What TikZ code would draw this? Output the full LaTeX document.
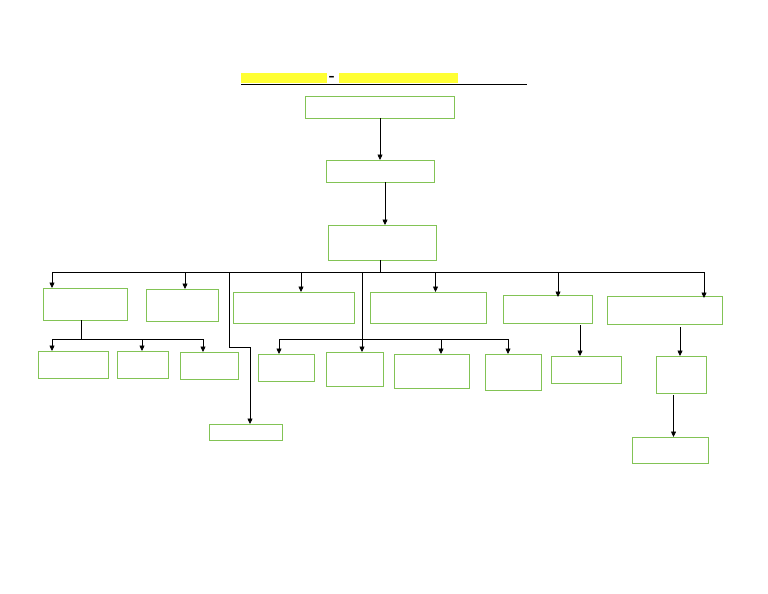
\documentclass[tikz,border=0pt]{standalone}
\usepackage{fontspec}
\newfontfamily\dashfont{DejaVu Sans}
\usetikzlibrary{arrows.meta}
\definecolor{gline}{RGB}{130,195,85}
\definecolor{hyel}{RGB}{255,255,51}
\newcommand\bx[5]{\node[gbox, minimum width={(#4-#2)*1pt}, minimum height={(#5-#3)*1pt}, anchor=north west] (#1) at (#2,#3) {};}
\begin{document}
\begin{tikzpicture}[x=1pt,y=-1pt,
  gbox/.style={draw=gline, line width=0.8pt, inner sep=0pt, outer sep=0pt},
  conn/.style={draw=black, line width=0.7pt},
  arr/.style={conn, -{Triangle[length=5.5pt,width=5pt]}}]
\useasboundingbox (0,0) rectangle (768,594);
\fill[white] (0,0) rectangle (768,594);
% title
\fill[hyel] (241,73) rectangle (327,83);
\fill[hyel] (339,73) rectangle (458,83);
\node[inner sep=0pt, font=\dashfont\bfseries\fontsize{12}{12}\selectfont] (dash) at (331.5,78) {–};
\draw[line width=0.8pt] (241,84.5) -- (527,84.5);
% boxes
\bx{B1}{305}{96}{454}{118}
\bx{B2}{326}{160}{434}{182}
\bx{B3}{328}{225}{436}{260}
\bx{A}{43}{288}{127}{320}
\bx{B}{146}{289}{218}{321}
\bx{C}{233}{292}{354}{323}
\bx{D}{370}{292}{486}{323}
\bx{E}{503}{295}{592}{323}
\bx{F}{607}{296}{722}{324}
\bx{A1}{38}{351}{108}{378}
\bx{A2}{117}{351}{168}{378}
\bx{A3}{180}{352}{238}{379}
\bx{K}{209}{424}{282}{440}
\bx{C1}{258}{354}{314}{381}
\bx{M}{326}{352}{383}{386}
\bx{D1}{394}{354}{469}{388}
\bx{D2}{485}{354}{541}{390}
\bx{E1}{551}{356}{621}{383}
\bx{F1}{656}{356}{706}{393}
\bx{G}{632}{437}{708}{463}
% coordinates
\coordinate (t1) at (380,0);
\coordinate (t2) at (385,0);
\coordinate (t3) at (380,272);
\coordinate (bL) at (52,272);
\coordinate (bB) at (185,272);
\coordinate (bK) at (229,272);
\coordinate (kc) at (229,347);
\coordinate (kd) at (250,347);
\coordinate (bC) at (301,272);
\coordinate (bM) at (362,272);
\coordinate (bD) at (435.5,272);
\coordinate (bE) at (558,272);
\coordinate (bF) at (704,272);
\coordinate (sC) at (279,339);
\coordinate (sD1) at (441,339);
\coordinate (sD2) at (508,339);
\coordinate (aT) at (81,0);
\coordinate (aB) at (81,339);
\coordinate (sA1) at (52,339);
\coordinate (sA2) at (142,339);
\coordinate (sA3) at (203,339);
\coordinate (e0) at (580,325);
\coordinate (f0) at (680,327);
\coordinate (g0) at (673.5,395);
% top chain
\draw[arr] (t1 |- B1.south) -- (t1 |- B2.north);
\draw[arr] (t2 |- B2.south) -- (t2 |- B3.north);
\draw[conn] (t3 |- B3.south) -- (t3);
% main bus
\draw[conn] (bL) -- (bF);
\draw[arr] (bL) -- (bL |- A.north);
\draw[arr] (bB) -- (bB |- B.north);
\draw[arr] (bC) -- (bC |- C.north);
\draw[arr] (bD) -- (bD |- D.north);
\draw[arr] (bE) -- ([yshift=-2pt]bE |- E.north);
\draw[arr] (bF) -- ([yshift=-2pt]bF |- F.north);
\draw[arr] (bK) -- (kc) -- (kd) -- (kd |- K.north);
\draw[arr] (bM) -- (bM |- M.north);
% sub bus C/D
\draw[conn] (sC) -- (sD2);
\draw[arr] (sC) -- (sC |- C1.north);
\draw[arr] (sD1) -- (sD1 |- D1.north);
\draw[arr] (sD2) -- (sD2 |- D2.north);
% sub bus A
\draw[conn] (aT |- A.south) -- (aB);
\draw[conn] (sA1) -- (sA3);
\draw[arr] (sA1) -- (sA1 |- A1.north);
\draw[arr] (sA2) -- (sA2 |- A2.north);
\draw[arr] (sA3) -- (sA3 |- A3.north);
% E, F chains
\draw[arr] (e0) -- (e0 |- E1.north);
\draw[arr] (f0) -- (f0 |- F1.north);
\draw[arr] (g0) -- (g0 |- G.north);
\end{tikzpicture}
\end{document}
